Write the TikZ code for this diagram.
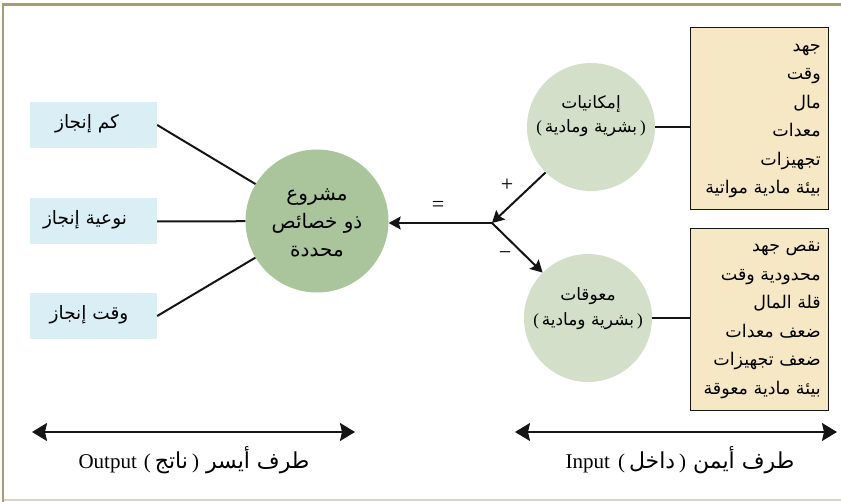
\documentclass[tikz,border=0pt]{standalone}
\usepackage{fontspec}
\setmainfont{Liberation Serif}
\newfontfamily\arabicfont[Script=Arabic]{DejaVu Sans}
\TeXXeTstate=1
\usetikzlibrary{arrows.meta}
\newcommand{\artext}[1]{{\arabicfont\beginR #1\endR}}
\definecolor{framecol}{HTML}{A89B72}
\definecolor{framelight}{HTML}{D9D4C7}
\definecolor{lblue}{HTML}{DAEEF5}
\definecolor{cgreen}{HTML}{AAC59B}
\definecolor{lgreen}{HTML}{D3DFC9}
\definecolor{tanbox}{HTML}{F6E8C4}
\definecolor{ink}{HTML}{151515}
\begin{document}
\begin{tikzpicture}[x=1pt,y=-1pt,
  outbox/.style={fill=lblue, minimum width=127pt, minimum height=46pt, inner sep=0pt},
  outtext/.style={inner sep=0pt, font=\arabicfont\fontsize{18.5}{20}\selectfont},
  listbox/.style={fill=tanbox, draw=ink, line width=0.8pt, minimum width=138pt,
    minimum height=182pt, inner sep=0pt},
  listtext/.style={align=right, anchor=east, inner sep=0pt,
    font=\arabicfont\fontsize{17.5}{28.5}\selectfont},
  bigcirc/.style={circle, fill=cgreen, minimum size=143pt, inner sep=0pt},
  smallcirc/.style={circle, fill=lgreen, minimum size=128pt, inner sep=0pt},
  circtext/.style={align=center, inner sep=0pt, font=\arabicfont\fontsize{20}{28}\selectfont},
  smalltext/.style={align=center, inner sep=0pt, font=\arabicfont\fontsize{17}{24.5}\selectfont},
  link/.style={draw=ink, line width=2pt},
  arr/.style={link, -{Stealth[length=12pt,width=13pt,inset=2pt]}},
  spanarrow/.style={draw=ink, line width=2pt,
    {Stealth[length=15pt,width=18pt,inset=2pt]}-{Stealth[length=15pt,width=18pt,inset=2pt]}},
  sign/.style={inner sep=0pt, font=\fontsize{22}{24}\selectfont},
  sidelabel/.style={inner sep=0pt, font=\fontsize{21}{24}\selectfont},
  sidear/.style={}]
\useasboundingbox (0,0) rectangle (841,502);
% frame
\draw[framelight, line width=2pt] (3,500) -- (841,500);
\draw[framecol, line width=2.6pt] (3,502) -- (3,4.5) -- (841,4.5);

% output boxes
\node[outbox] (b1) at (93.5,125) {};
\node[outtext] (b1t) at (87,124) {\artext{كم إنجاز}};
\node[outbox] (b2) at (93.5,221.5) {};
\node[outtext] (b2t) at (85,220) {\artext{نوعية إنجاز}};
\node[outbox] (b3) at (93.5,316) {};
\node[outtext] (b3t) at (89,315) {\artext{وقت إنجاز}};

% central circle
\node[bigcirc] (c) at (317,221) {};
\node[circtext] (ct) at (317,223) {\artext{مشروع}\\\artext{ذو خصائص}\\\artext{محددة}};

% input circles
\node[smallcirc] (up) at (591,127) {};
\node[smalltext] (upt) at (591,116) {\artext{إمكانيات}\\{\rmfamily(}\,\artext{بشرية ومادية}\,{\rmfamily)}};
\node[smallcirc] (low) at (588,318) {};
\node[smalltext] (lowt) at (588,308.5) {\artext{معوقات}\\{\rmfamily(}\,\artext{بشرية ومادية}\,{\rmfamily)}};

% list boxes
\node[listbox] (l1) at (759,118.5) {};
\node[listtext] (l1t) at (821,121) {\artext{جهد}\\\artext{وقت}\\\artext{مال}\\\artext{معدات}\\\artext{تجهيزات}\\\artext{بيئة مادية مواتية}};
\node[listbox] (l2) at (759,319) {};
\node[listtext] (l2t) at (821,320) {\artext{نقص جهد}\\\artext{محدودية وقت}\\\artext{قلة المال}\\\artext{ضعف معدات}\\\artext{ضعف تجهيزات}\\\artext{بيئة مادية معوقة}};

% connectors
\draw[link] (b1.east) -- (c);
\draw[link] (b2.east) -- (c);
\draw[link] (b3.east) -- (c);
\draw[link] (up.east) -- (up.east -| l1.west);
\draw[link] (low.east) -- (low.east -| l2.west);

\coordinate (j) at (492,223);
\draw[arr] (up.225) -- (j);
\draw[arr] (j) -- (low.135);
\draw[arr] (j) -- (c.east |- j);

\node[sign] (plus) at (507,185) {+};
\node[sign] (eq) at (438,206) {=};
\node[sign] (minus) at (505,256) {−};

% bottom spans
\coordinate (oa) at (32,432);
\coordinate (ob) at (355,432);
\draw[spanarrow] (oa) -- (ob);
\node[sidelabel] (outl) at (194,460) {Output\hspace{7pt}(\hspace{4pt}\artext{\fontsize{22}{24}\selectfont ناتج}\hspace{4pt})\hspace{7pt}\artext{\fontsize{22}{24}\selectfont طرف أيسر}};
\coordinate (ia) at (515,432);
\coordinate (ib) at (837,432);
\draw[spanarrow] (ia) -- (ib);
\node[sidelabel] (inl) at (680,460) {Input\hspace{8pt}(\hspace{4pt}\artext{\fontsize{22}{24}\selectfont داخل}\hspace{4pt})\hspace{7pt}\artext{\fontsize{22}{24}\selectfont طرف أيمن}};
\end{tikzpicture}
\end{document}
